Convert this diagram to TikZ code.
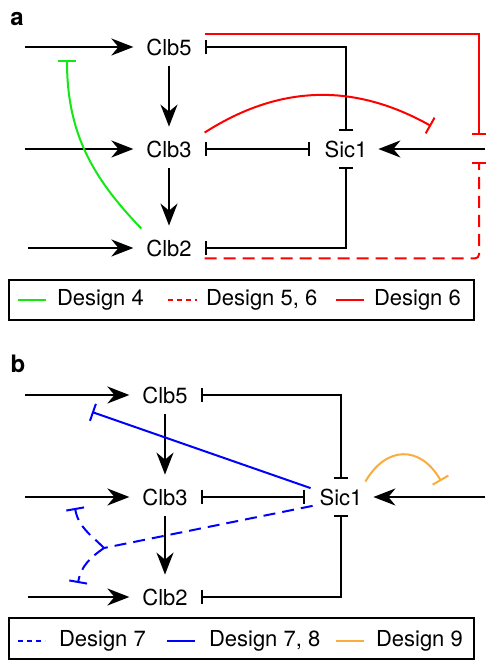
\documentclass[tikz,border=0pt]{standalone}
\usepackage{fontspec}
\setmainfont{TeX Gyre Heros}
\usetikzlibrary{arrows.meta}
\definecolor{dgreen}{RGB}{20,232,20}
\definecolor{dred}{RGB}{255,0,0}
\definecolor{dblue}{RGB}{0,0,255}
\definecolor{dorange}{RGB}{250,172,60}

\begin{document}
\begin{tikzpicture}[x=1pt,y=1pt,line width=2pt,
    font=\fontsize{22}{26}\selectfont,
    gene/.style={inner xsep=12pt,inner ysep=7pt},
    prot/.style={inner sep=2pt},
    act/.style={-{Stealth[length=22pt,width=17pt,inset=7pt]}},
    inh/.style={{Bar[width=14pt]}-{Bar[width=14pt]}},
    tee/.style={-{Bar[width=18pt]}},
    dash7/.style={dash pattern=on 12pt off 7pt},
    leg/.style={anchor=base west,inner sep=0pt},
    panel/.style={font=\fontsize{24}{28}\selectfont\bfseries}]
  \useasboundingbox (0,0) rectangle (485,661);

  % panel a
  \node[panel] (la) at (17,642) {a};
  \node[gene] (a5) at (169,614) {Clb5};
  \node[gene] (a3) at (169,512) {Clb3};
  \node[gene] (a2) at (169,413) {Clb2};
  \node[prot] (as) at (346,512) {Sic1};
  \coordinate (a5in) at (25,614);
  \coordinate (a3in) at (25,512);
  \coordinate (a2in) at (28,413);
  \coordinate (asin) at (485,512);
  \coordinate (a6t) at (479,526);
  \coordinate (a56t) at (479,499);
  \coordinate (a6c) at (431,535);
  \coordinate (a4t) at (67,601);

  \path[act]
    (a5in) edge (a5)
    (a3in) edge (a3)
    (a2in) edge (a2)
    (asin) edge [shorten >=8pt] (as);
  \path[act,shorten <=3pt,shorten >=6pt]
    (a5) edge (a3)
    (a3) edge (a2);
  \draw[inh,shorten >=6.5pt] (a5.east) -| (as.north);
  \draw[inh,shorten >=12pt] (a3) -- (as);
  \draw[inh,shorten >=6.5pt] (a2.east) -| (as.south);

  \draw[dred,-{Bar[width=14pt]}] ([yshift=-3pt]a5.north east) -| (a6t);
  \draw[dred,-{Bar[width=14pt]},dash7,rounded corners=4pt] ([yshift=6pt]a2.south east) -| (a56t);
  \draw[dred,tee] (a3.north east) to[bend left=31] (a6c);
  \draw[dgreen,tee] ([shift={(8pt,3pt)}]a2.north west) to[out=134,in=-90] (a4t);

  \draw (9,341) rectangle (474,381);
  \draw[dgreen] (18,361) -- (46,361);
  \node[leg] (l4) at (56,355) {Design 4};
  \draw[dred,dash pattern=on 5pt off 4pt] (168,361) -- (197,361);
  \node[leg] (l56) at (205,355) {Design 5, 6};
  \draw[dred] (336,361) -- (364,361);
  \node[leg] (l6) at (373,355) {Design 6};

  % panel b
  \node[panel] (lb) at (18,297) {b};
  \node[gene] (b5) at (165,266) {Clb5};
  \node[gene] (b3) at (165,164) {Clb3};
  \node[gene] (b2) at (165,64) {Clb2};
  \node[prot] (bs) at (341,164) {Sic1};
  \coordinate (b5in) at (25,266);
  \coordinate (b3in) at (25,164);
  \coordinate (b2in) at (28,64);
  \coordinate (bsin) at (485,164);
  \coordinate (b78t) at (92,249);
  \coordinate (bj) at (104,113);
  \coordinate (b7u) at (75,153);
  \coordinate (b7d) at (78,78);
  \coordinate (b9t) at (441,180);

  \path[act]
    (b5in) edge (b5)
    (b3in) edge (b3)
    (b2in) edge (b2)
    (bsin) edge [shorten >=8pt] (bs);
  \path[act,shorten <=3pt,shorten >=6pt]
    (b5) edge (b3)
    (b3) edge (b2);
  \draw[inh,shorten >=6.5pt] (b5.east) -| (bs.north);
  \draw[inh,shorten >=12pt] (b3) -- (bs);
  \draw[inh,shorten >=6.5pt] (b2.east) -| (bs.south);

  \draw[dblue,tee] ([xshift=-6pt]bs.160) -- (b78t);
  \draw[dblue,dash7] ([xshift=-4pt]bs.200) -- (bj);
  \draw[dblue,tee,dash7] (bj) to[out=135,in=-80] (b7u);
  \draw[dblue,tee,dash7] (bj) to[out=215,in=80] (b7d);
  \draw[dorange,tee] ([yshift=4pt]bs.north east) to[out=60,in=120,looseness=1.4] (b9t);

  \draw (9,2) rectangle (474,43);
  \draw[dblue,dash pattern=on 5pt off 4pt] (18,20) -- (45,20);
  \node[leg] (l7) at (58,14) {Design 7};
  \draw[dblue] (167,20) -- (195,20);
  \node[leg] (l78) at (208,14) {Design 7, 8};
  \draw[dorange] (336,20) -- (364,20);
  \node[leg] (l9) at (375,14) {Design 9};
\end{tikzpicture}
\end{document}
